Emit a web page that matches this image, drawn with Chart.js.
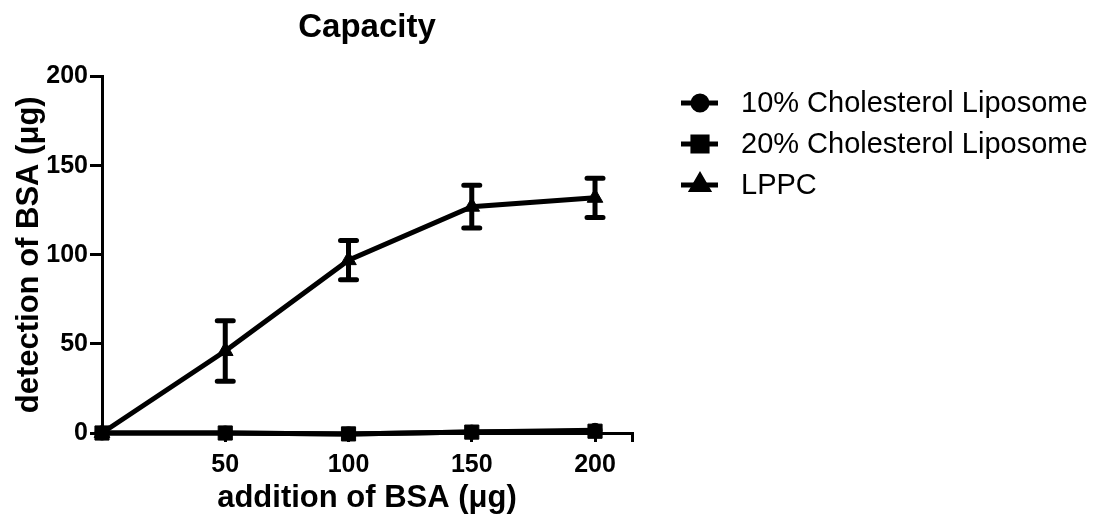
<!DOCTYPE html>
<html>
<head>
<meta charset="utf-8">
<script src="https://cdn.jsdelivr.net/npm/chart.js@4.4.1/dist/chart.umd.min.js"></script>
<style>
  html, body { margin: 0; padding: 0; background: #fff; }
  #wrap { width: 1097px; height: 523px; position: relative; }
</style>
</head>
<body>
<div id="wrap"><canvas id="capacityChart"></canvas></div>
<script>
// Data
const doses = [0, 50, 100, 150, 200];
const chol10 = [0, 0, -0.5, 0.5, 1.5];
const chol20 = [0, 0, -0.5, 0.5, 1];
const lppc = [0, 46, 97, 127, 132];
const lppcErr = [0, 17, 11, 12, 11];
const xTicks = [50, 100, 150, 200];
const yTicks = [0, 50, 100, 150, 200];
const xMax = 215;

const seriesNames = ['10% Cholesterol Liposome', '20% Cholesterol Liposome', 'LPPC'];

const FONT = "'Liberation Sans', Arial, sans-serif";
const toPoints = (vals) => vals.map((v, i) => ({ x: doses[i], y: v }));

// Error bars (drawn through the scales)
const errorBars = {
  id: 'errorBars',
  afterDatasetsDraw(chart) {
    const { ctx, scales: { x, y } } = chart;
    chart.data.datasets.forEach(ds => {
      if (!ds.errors) return;
      ctx.save();
      ctx.strokeStyle = '#000';
      ctx.lineWidth = 5;
      ctx.lineCap = 'round';
      ds.data.forEach((p, i) => {
        const e = ds.errors[i];
        if (!e) return;
        const px = x.getPixelForValue(p.x);
        const top = y.getPixelForValue(p.y + e);
        const bot = y.getPixelForValue(p.y - e);
        ctx.beginPath();
        ctx.moveTo(px, top); ctx.lineTo(px, bot);
        ctx.moveTo(px - 8, top); ctx.lineTo(px + 8, top);
        ctx.moveTo(px - 8, bot); ctx.lineTo(px + 8, bot);
        ctx.stroke();
      });
      ctx.restore();
    });
  }
};

// Prism-style legend: line sample with marker, then label
const sideLegend = {
  id: 'sideLegend',
  afterDraw(chart) {
    const { ctx, chartArea } = chart;
    const x0 = chartArea.right + 49;
    const y0 = 103;
    const gap = 41;
    ctx.save();
    chart.data.datasets.forEach((ds, i) => {
      const cy = y0 + i * gap;
      ctx.strokeStyle = '#000';
      ctx.lineWidth = 5;
      ctx.beginPath();
      ctx.moveTo(x0, cy); ctx.lineTo(x0 + 37, cy);
      ctx.stroke();
      Chart.helpers.drawPoint(ctx, {
        pointStyle: ds.pointStyle, radius: ds.pointRadius, rotation: 0, borderWidth: 1
      }, x0 + 19, cy);
      ctx.fillStyle = '#000';
      ctx.font = '29px ' + FONT;
      ctx.textBaseline = 'middle';
      ctx.fillText(ds.label, x0 + 60, cy + 1);
    });
    ctx.restore();
  }
};

const baseSet = {
  borderColor: '#000',
  backgroundColor: '#000',
  borderWidth: 5,
  pointBorderWidth: 1,
  pointBorderColor: '#000',
  pointBackgroundColor: '#000',
  tension: 0,
  fill: false,
  clip: false
};

new Chart(document.getElementById('capacityChart'), {
  type: 'line',
  data: {
    datasets: [
      { ...baseSet, label: seriesNames[0], data: toPoints(chol10), pointStyle: 'circle', pointRadius: 7, order: 2 },
      { ...baseSet, label: seriesNames[1], data: toPoints(chol20), pointStyle: 'rect', pointRadius: 10, order: 1 },
      { ...baseSet, label: seriesNames[2], data: toPoints(lppc), errors: lppcErr, pointStyle: 'triangle', pointRadius: 9, order: 0 }
    ]
  },
  plugins: [errorBars, sideLegend],
  options: {
    responsive: true,
    maintainAspectRatio: false,
    animation: false,
    layout: { padding: { left: 0, right: 465, top: 0, bottom: 0 } },
    plugins: {
      legend: { display: false },
      tooltip: { enabled: false },
      title: {
        display: true,
        text: 'Capacity',
        color: '#000',
        fullSize: false,
        font: { family: FONT, size: 33, weight: 'bold' },
        padding: { top: 8, bottom: 29 }
      }
    },
    scales: {
      x: {
        type: 'linear',
        min: 0,
        max: xMax,
        afterBuildTicks: (scale) => { scale.ticks = xTicks.concat([xMax]).map(v => ({ value: v })); },
        afterFit: (scale) => { scale.height = 90; },
        ticks: {
          color: '#000',
          padding: 8,
          maxRotation: 0,
          font: { family: FONT, size: 25, weight: 'bold' },
          callback: (v) => v === xMax ? '' : v
        },
        grid: { drawOnChartArea: false, drawTicks: true, tickLength: 9, color: '#000', lineWidth: 3 },
        border: { display: true, color: '#000', width: 3 },
        title: {
          display: true,
          text: 'addition of BSA (\u03bcg)',
          color: '#000',
          font: { family: FONT, size: 31, weight: 'bold' },
          padding: { top: 0, bottom: 6 }
        }
      },
      y: {
        min: 0,
        max: 200,
        afterBuildTicks: (scale) => { scale.ticks = yTicks.map(v => ({ value: v })); },
        afterFit: (scale) => { scale.width = 102; },
        ticks: {
          color: '#000',
          padding: 2,
          font: { family: FONT, size: 25, weight: 'bold' }
        },
        grid: { drawOnChartArea: false, drawTicks: true, tickLength: 12, color: '#000', lineWidth: 3 },
        border: { display: true, color: '#000', width: 3 },
        title: {
          display: true,
          text: 'detection of BSA (\u03bcg)',
          color: '#000',
          font: { family: FONT, size: 31, weight: 'bold' },
          padding: { top: 11, bottom: 0 }
        }
      }
    }
  }
});
</script>
</body>
</html>
